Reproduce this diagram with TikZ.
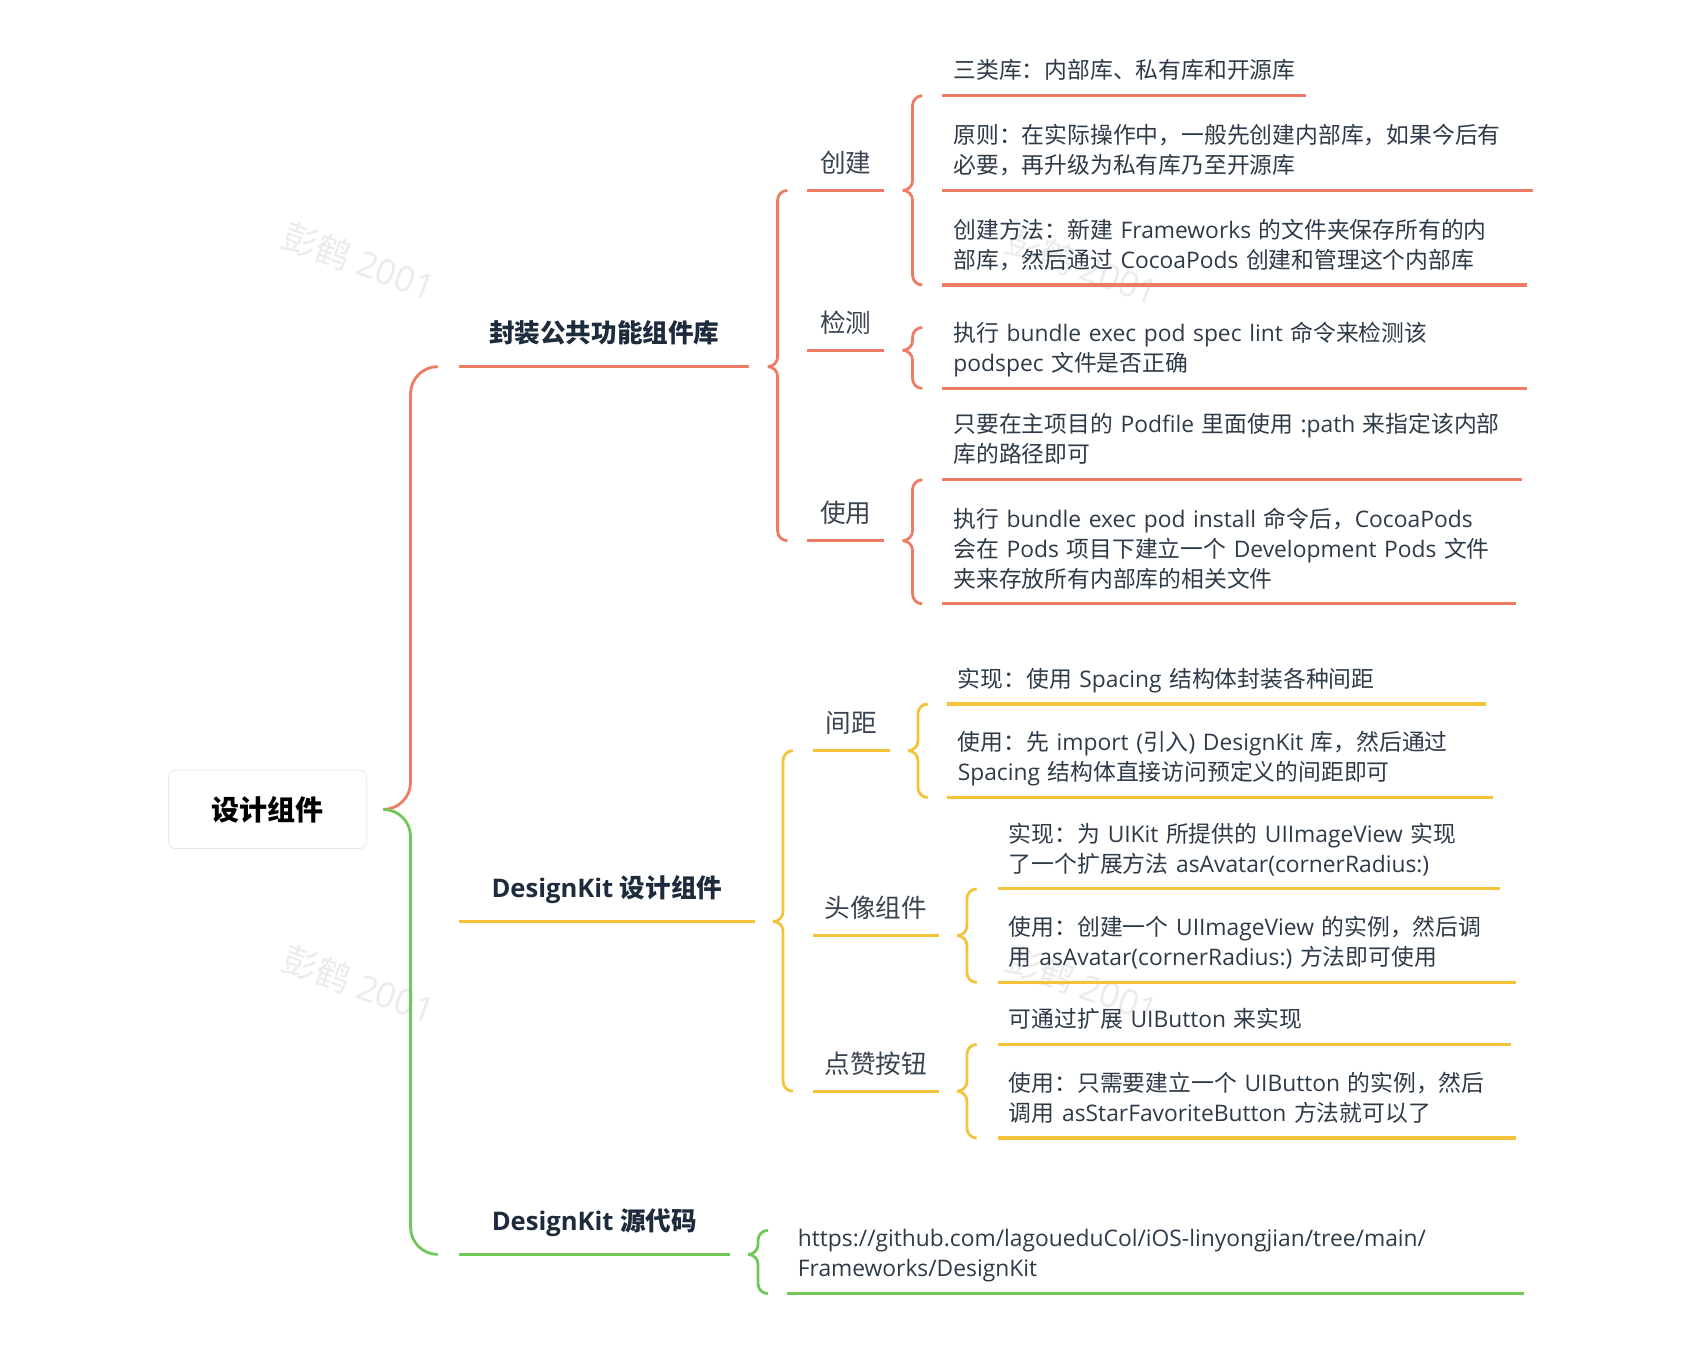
\documentclass[tikz,border=0pt]{standalone}
\usepackage{fontspec}
\setmainfont{Open Sans}
\newfontfamily\cjkfam{Noto Sans CJK SC}
\newfontfamily\latinfam{Open Sans}
\usetikzlibrary{calc,positioning}

% Chinese runs are set in the CJK face, the rest in Open Sans
\XeTeXinterchartokenstate=1
\newXeTeXintercharclass\cjkclass
\newcount\cjkcode
\def\setcjkrange#1#2{\cjkcode=#1\relax
  \loop\XeTeXcharclass\cjkcode=\cjkclass\relax
  \advance\cjkcode by 1\relax
  \ifnum\cjkcode<#2\repeat}
\setcjkrange{"3000}{"3040}
\setcjkrange{"4E00}{"A000}
\setcjkrange{"FF00}{"FFF0}
\XeTeXinterchartoks 0 \cjkclass = {\cjkfam}
\XeTeXinterchartoks 4095 \cjkclass = {\cjkfam}
\XeTeXinterchartoks \cjkclass 0 = {\latinfam}
\XeTeXinterchartoks \cjkclass 4095 = {\latinfam}

\definecolor{redline}{HTML}{EE7B63}
\definecolor{yellowline}{HTML}{F3C33B}
\definecolor{greenline}{HTML}{72C857}
\definecolor{ink}{HTML}{1E2B3D}
\definecolor{subtext}{HTML}{3A4350}
\definecolor{body}{HTML}{2E3A48}

\def\px{0.544pt}

\tikzset{
  uline/.style={line width=1.6pt},
  bline/.style={line width=1.4pt},
  rootnode/.style={draw=black!9, fill=white, rounded corners=3.5pt,
    minimum width=182*\px, minimum height=72*\px,
    font=\fontsize{14}{17}\selectfont\bfseries, text=black},
  mainnode/.style={anchor=south west, inner xsep=0pt, inner ysep=7.2pt,
    minimum width=#1*\px, font=\fontsize{12.8}{16}\selectfont\bfseries,
    text=ink, execute at end node=\strut},
  subnode/.style={anchor=south west, inner xsep=0pt, inner ysep=3.9pt,
    minimum width=#1*\px, font=\fontsize{12.8}{16}\selectfont,
    text=subtext, execute at end node=\strut},
  leaf/.style={anchor=south west, inner xsep=10*\px, inner ysep=3.7pt,
    text width=#1, align=left, font=\fontsize{11.4}{15}\selectfont,
    text=body, execute at end node=\strut},
  watermark/.style={text=black!8, font=\fontsize{17.5}{20}\selectfont, rotate=-20}
}

% one half of a brace: from the tip #2 round to the underline of #3
\newcommand{\halfbrace}[4]{%
  \draw[#1,bline,rounded corners=#4*\px] ($(#2 |- #3)+(2*#4,0)$) -- ($(#2 |- #3)+(#4,0)$)
    -- ($(#2)+(#4,0)$) -- (#2);}
\newcommand{\branchbrace}[4]{%
  \coordinate (#2tip) at ($(#2.south east)+(17,0)$);
  \halfbrace{#1}{#2tip}{#3}{9}
  \halfbrace{#1}{#2tip}{#4}{9}}

\begin{document}
\begin{tikzpicture}[x=0.544pt,y=-0.544pt]
  \useasboundingbox (0,0) rectangle (1560.7,1259.2);

  \node[watermark] (wm1) at (330,240) {彭鹤 2001};
  \node[watermark] (wm2) at (330,905) {彭鹤 2001};
  \node[watermark] (wm3) at (995,245) {彭鹤 2001};
  \node[watermark] (wm4) at (995,905) {彭鹤 2001};

  \node[rootnode] (root) at (246,744) {设计组件};

  \node[mainnode=266] (lib) at (422,337) {封装公共功能组件库};
  \node[mainnode=271] (kit) at (422,847) {DesignKit 设计组件};
  \node[mainnode=248] (src) at (422,1153) {DesignKit 源代码};

  \node[subnode=70] (create) at (742,175) {创建};
  \node[subnode=70] (check) at (742,322) {检测};
  \node[subnode=70] (use) at (742,497) {使用};
  \node[subnode=70] (spacing) at (747,690) {间距};
  \node[subnode=115] (avatar) at (747,860) {头像组件};
  \node[subnode=115] (likebtn) at (747,1003) {点赞按钮};

  \node[leaf=170.8pt] (kinds) at (866,88) {三类库：内部库、私有库和开源库};
  \node[leaf=284.0pt] (rule) at (866,175)
    {原则：在实际操作中，一般先创建内部库，如果今后有\\必要，再升级为私有库乃至开源库};
  \node[leaf=281.2pt] (howto) at (866,262)
    {创建方法：新建~Frameworks~的文件夹保存所有的内\\部库，然后通过~CocoaPods~创建和管理这个内部库};
  \node[leaf=281.2pt] (lint) at (866,357)
    {执行~bundle~exec~pod~spec~lint~命令来检测该\\podspec~文件是否正确};
  \node[leaf=278.5pt] (podfile) at (866,441)
    {只要在主项目的~Podfile~里面使用~:path~来指定该内部\\库的路径即可};
  \node[leaf=275.8pt] (install) at (866,555)
    {执行~bundle~exec~pod~install~命令后，CocoaPods\\会在~Pods~项目下建立一个~Development~Pods~文件\\夹来存放所有内部库的相关文件};
  \node[leaf=258.4pt] (spcimpl) at (870,647) {实现：使用~Spacing~结构体封装各种间距};
  \node[leaf=262.2pt] (spcuse) at (870,733)
    {使用：先~import~(引入)~DesignKit~库，然后通过\\Spacing~结构体直接访问预定义的间距即可};
  \node[leaf=239.9pt] (avimpl) at (917,817)
    {实现：为~UIKit~所提供的~UIImageView~实现\\了一个扩展方法~asAvatar(cornerRadius:)};
  \node[leaf=248.1pt] (avuse) at (917,903)
    {使用：创建一个~UIImageView~的实例，然后调\\用~asAvatar(cornerRadius:)~方法即可使用};
  \node[leaf=245.3pt] (btnimpl) at (917,960) {可通过扩展~UIButton~来实现};
  \node[leaf=248.1pt] (btnuse) at (917,1046)
    {使用：只需要建立一个~UIButton~的实例，然后\\调用~asStarFavoriteButton~方法就可以了};
  \node[leaf=357.4pt] (url) at (723,1189)
    {https://github.com/lagoueduCol/iOS-linyongjian/tree/main/\\Frameworks/DesignKit};

  % underlines
  \foreach \n in {lib,create,check,use,kinds,rule,howto,lint,podfile,install}
    \draw[redline,uline] (\n.south west) -- (\n.south east);
  \foreach \n in {kit,spacing,avatar,likebtn,spcimpl,spcuse,avimpl,avuse,btnimpl,btnuse}
    \draw[yellowline,uline] (\n.south west) -- (\n.south east);
  \foreach \n in {src,url}
    \draw[greenline,uline] (\n.south west) -- (\n.south east);

  % braces
  \coordinate (roottip) at ($(root.east)+(15,0)$);
  \halfbrace{redline}{roottip}{lib.south}{25}
  \halfbrace{greenline}{roottip}{src.south}{25}

  \coordinate (linttop) at ($(lint.north west)+(0,12)$);
  \coordinate (urltop) at ($(url.north west)+(0,8)$);
  \branchbrace{redline}{lib}{create.south}{use.south}
  \branchbrace{redline}{create}{kinds.south}{howto.south}
  \branchbrace{redline}{check}{linttop}{lint.south}
  \branchbrace{redline}{use}{podfile.south}{install.south}
  \branchbrace{yellowline}{kit}{spacing.south}{likebtn.south}
  \branchbrace{yellowline}{spacing}{spcimpl.south}{spcuse.south}
  \branchbrace{yellowline}{avatar}{avimpl.south}{avuse.south}
  \branchbrace{yellowline}{likebtn}{btnimpl.south}{btnuse.south}
  \branchbrace{greenline}{src}{urltop}{url.south}
\end{tikzpicture}
\end{document}
